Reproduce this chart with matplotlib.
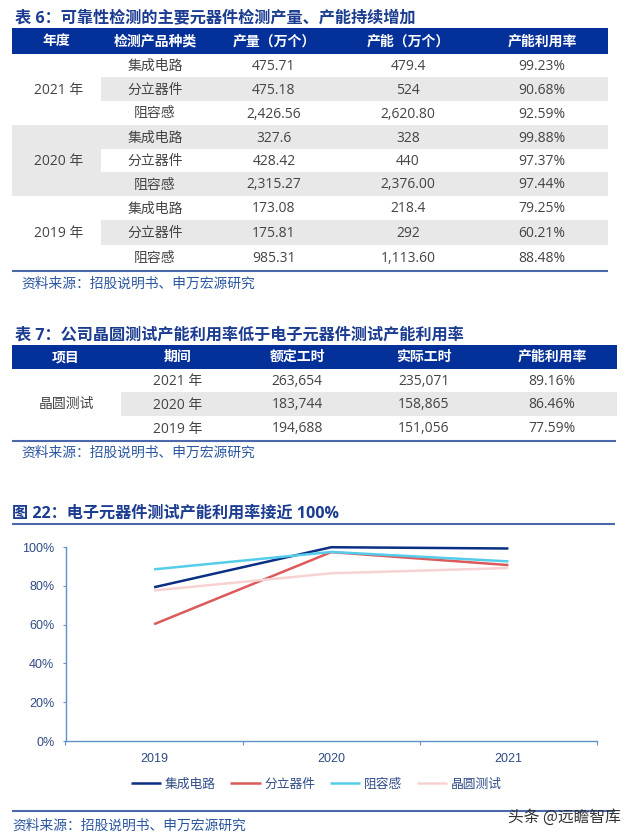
import matplotlib
matplotlib.use("Agg")
import matplotlib.pyplot as plt
from matplotlib.patches import Rectangle
from matplotlib.ticker import FuncFormatter

W, H = 640, 839
CJK = 'Noto Sans CJK SC'
BODY = ['Open Sans', CJK]
CHART = ['Liberation Sans', CJK]
NAVY = '#04309a'
TITLE = '#1b3c90'
RULE = '#4a68ab'
SRC = '#2a56a0'
GRAY = '#e8e8e8'
INK = '#444444'

t6_title = '表 6：可靠性检测的主要元器件检测产量、产能持续增加'
t6_head = ['年度', '检测产品种类', '产量（万个）', '产能（万个）', '产能利用率']
t6_years = ['2021 年', '2020 年', '2019 年']
t6_kinds = ['集成电路', '分立器件', '阻容感']
t6_output = ['475.71', '475.18', '2,426.56', '327.6', '428.42', '2,315.27', '173.08', '175.81', '985.31']
t6_capacity = ['479.4', '524', '2,620.80', '328', '440', '2,376.00', '218.4', '292', '1,113.60']
t6_rate = ['99.23%', '90.68%', '92.59%', '99.88%', '97.37%', '97.44%', '79.25%', '60.21%', '88.48%']

t7_title = '表 7：公司晶圆测试产能利用率低于电子元器件测试产能利用率'
t7_head = ['项目', '期间', '额定工时', '实际工时', '产能利用率']
t7_item = '晶圆测试'
t7_period = ['2021 年', '2020 年', '2019 年']
t7_rated = ['263,654', '183,744', '194,688']
t7_actual = ['235,071', '158,865', '151,056']
t7_rate = ['89.16%', '86.46%', '77.59%']

source = '资料来源：招股说明书、申万宏源研究'
fig_title = '图 22：电子元器件测试产能利用率接近 100%'
years = ['2019', '2020', '2021']
ic = [79.25, 99.88, 99.23]
discrete = [60.21, 97.37, 90.68]
rlc = [88.48, 97.44, 92.59]
wafer = [77.59, 86.46, 89.16]
names = ['集成电路', '分立器件', '阻容感', '晶圆测试']
colors = ['#0a2f85', '#dc5a5a', '#55cdea', '#f7d2d2']
series = [ic, discrete, rlc, wafer]

fig = plt.figure(figsize=(W / 100, H / 100), dpi=100, facecolor='white')
bg = fig.add_axes([0, 0, 1, 1])
bg.set_xlim(0, W)
bg.set_ylim(H, 0)
bg.axis('off')


def rect(x0, y0, x1, y1, color):
    bg.add_patch(Rectangle((x0, y0), x1 - x0, y1 - y0, fc=color, ec='none', zorder=1))


def rule(x0, x1, y, lw=1.5):
    bg.plot([x0, x1], [y, y], color=RULE, lw=lw, solid_capstyle='butt', zorder=2)


def cell(x, y, s, size=10, color=INK, weight='normal', family=BODY, ha='center'):
    bg.text(x, y + 1.5, s, fontsize=size, color=color, fontweight=weight, family=family,
            ha=ha, va='center', zorder=3)


# Table 6
cell(15, 17.5, t6_title, 11.65, TITLE, 'bold', ha='left')
rect(12, 28, 608, 54, NAVY)
t6_x = [56, 155, 274, 408, 542]
for x, s in zip(t6_x, t6_head):
    cell(x, 40, s, 10, 'white', 'bold')
t6_edges = [54, 77, 101, 125, 149, 172, 196, 220, 245, 270]
rect(101, t6_edges[1], 608, t6_edges[2], GRAY)
rect(12, t6_edges[3], 608, t6_edges[6], GRAY)
rect(101, t6_edges[4], 608, t6_edges[5], 'white')
rect(101, t6_edges[7], 608, t6_edges[8], GRAY)
for i in range(9):
    y = (t6_edges[i] + t6_edges[i + 1]) / 2 - 0.5
    cell(t6_x[1], y, t6_kinds[i % 3])
    cell(t6_x[2], y, t6_output[i])
    cell(t6_x[3], y, t6_capacity[i])
    cell(t6_x[4], y, t6_rate[i])
for i, s in enumerate(t6_years):
    cell(59, (t6_edges[3 * i] + t6_edges[3 * i + 3]) / 2 - 0.5, s)
rule(12, 608, 271)
cell(21, 283, source, 9.95, SRC, ha='left')

# Table 7
cell(15, 334.5, t7_title, 11.65, TITLE, 'bold', ha='left')
rect(12, 345, 617, 369, NAVY)
t7_x = [66, 178, 297, 424, 552]
for x, s in zip(t7_x, t7_head):
    cell(x, 355.5, s, 10, 'white', 'bold')
t7_edges = [369, 392, 416, 440]
rect(121, 392, 617, 416, GRAY)
for i in range(3):
    y = (t7_edges[i] + t7_edges[i + 1]) / 2 - 0.5
    cell(t7_x[1], y, t7_period[i])
    cell(t7_x[2], y, t7_rated[i])
    cell(t7_x[3], y, t7_actual[i])
    cell(t7_x[4], y, t7_rate[i])
cell(t7_x[0], 403, t7_item)
rule(12, 616, 441)
cell(21, 452, source, 9.95, SRC, ha='left')

# Figure 22
cell(12, 512, fig_title, 11.65, TITLE, 'bold', ha='left')
rule(12, 615, 524)
rule(12, 615, 811)
cell(12, 825, source, 9.95, SRC, ha='left')
cell(508, 815.5, '头条 @远瞻智库', 11.3, '#333333', ha='left', family=[CJK])

left, right, top, bottom = 65.5, 597, 547, 741
ax = fig.add_axes([left / W, 1 - bottom / H, (right - left) / W, (bottom - top) / H])
ax.patch.set_alpha(0)
ax.set_xlim(-0.5, 2.5)
ax.set_ylim(0, 100)
for s, c, n in zip(series, colors, names):
    ax.plot(years, s, color=c, lw=1.8, label=n, solid_capstyle='butt', clip_on=False)
for side in ['top', 'right']:
    ax.spines[side].set_visible(False)
for side in ['left', 'bottom']:
    ax.spines[side].set_color('#5f93c8')
    ax.spines[side].set_linewidth(1)
AX_TXT = '#2f4b85'
ax.set_yticks(range(0, 101, 20))
ax.yaxis.set_major_formatter(FuncFormatter(lambda v, _: f'{v:.0f}%'))
ax.set_xticks([0, 1, 2])
ax.set_xticks([-0.5, 0.5, 1.5, 2.5], minor=True)
ax.tick_params(axis='y', length=2.5, width=0.8, color='#5f93c8', labelcolor=AX_TXT, labelsize=9, pad=5.5)
ax.tick_params(axis='x', which='major', length=0, labelcolor=AX_TXT, labelsize=9, pad=8.5)
ax.tick_params(axis='x', which='minor', length=3, width=0.8, color='#5f93c8')
for lab in ax.get_xticklabels() + ax.get_yticklabels():
    lab.set_family(CHART)
ax.legend(loc='center', bbox_to_anchor=((316 - left) / (right - left), (bottom - 784.5) / (bottom - top)),
          ncols=4, frameon=False, handlelength=2.4, handletextpad=0.25, columnspacing=1.15,
          labelcolor=AX_TXT, prop={'family': CHART, 'size': 9.2}, borderpad=0, borderaxespad=0)

fig.savefig('out.png', dpi=100)
